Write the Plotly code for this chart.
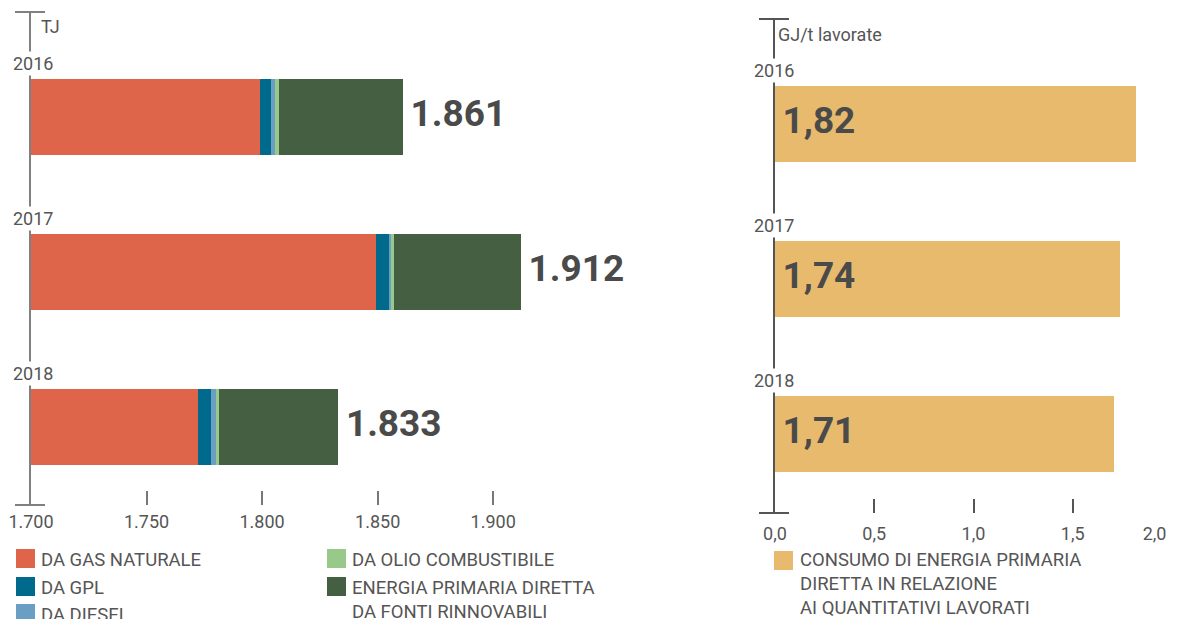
import plotly.graph_objects as go

# ---------------- data ----------------
years = ["2016", "2017", "2018"]
gas_naturale = [1799.0, 1849.4, 1772.2]
gpl = [4.8, 5.6, 5.6]
diesel = [1.9, 0.7, 2.1]
olio_combustibile = [1.5, 1.5, 1.3]
rinnovabili = [53.8, 54.8, 51.8]
totali = [1861, 1912, 1833]

intensita = [1.82, 1.74, 1.71]

left_ticks = [1700, 1750, 1800, 1850, 1900]
right_ticks = [0.0, 0.5, 1.0, 1.5, 2.0]

series_names = ["DA GAS NATURALE", "DA GPL", "DA DIESEL", "DA OLIO COMBUSTIBILE",
                "ENERGIA PRIMARIA DIRETTA<br>DA FONTI RINNOVABILI"]
series_colors = ["#DE644A", "#006A8C", "#6A9EC3", "#98C98B", "#445F41"]
right_name = "CONSUMO DI ENERGIA PRIMARIA<br>DIRETTA IN RELAZIONE<br>AI QUANTITATIVI LAVORATI"
right_color = "#E7BA6E"

W, H = 1178, 619
OFF = 8  # page body margin offset
TXT = "#555555"
FONT = "Roboto"
BOLD = "Roboto"
THIN = "\u2009"

def px(x):
    return (x - OFF) / W

def py(y):
    return 1 - (y - OFF) / H

fig = go.Figure()

series_vals = [gas_naturale, gpl, diesel, olio_combustibile, rinnovabili]
for name, vals, col in zip(series_names, series_vals, series_colors):
    fig.add_trace(go.Bar(
        x=vals, y=years, orientation="h", name=name,
        marker=dict(color=col, line=dict(width=0)),
        width=0.49, xaxis="x", yaxis="y", showlegend=False,
    ))

fig.add_trace(go.Bar(
    x=intensita, y=years, orientation="h", name="intensita",
    marker=dict(color=right_color, line=dict(width=0)),
    width=0.49, xaxis="x2", yaxis="y2", showlegend=False,
))

# value labels as text traces
fig.add_trace(go.Scatter(
    x=totali, y=years, mode="text", xaxis="x", yaxis="y", cliponaxis=False,
    text=[THIN + f"{t:,}".replace(",", ".") for t in totali],
    textposition="middle right", showlegend=False, hoverinfo="skip",
    textfont=dict(family=BOLD, size=37, color="#4A4A4A", weight="bold"),
))
fig.add_trace(go.Scatter(
    x=[0] * len(intensita), y=years, mode="text", xaxis="x2", yaxis="y2",
    cliponaxis=False,
    text=[THIN + f"{v:.2f}".replace(".", ",") for v in intensita],
    textposition="middle right", showlegend=False, hoverinfo="skip",
    textfont=dict(family=BOLD, size=37, color="#4A4A4A", weight="bold"),
))

annotations = []
# year labels
for i, yr in enumerate(years):
    annotations.append(dict(
        x=0, y=i - 0.348, xref="x domain", yref="y", text=yr, showarrow=False,
        xanchor="center", yanchor="middle", xshift=2, bgcolor="white", borderpad=1,
        font=dict(family=FONT, size=18, color=TXT),
    ))
    annotations.append(dict(
        x=0, y=i - 0.342, xref="x2 domain", yref="y2", text=yr, showarrow=False,
        xanchor="center", yanchor="middle", xshift=-1, bgcolor="white", borderpad=1,
        font=dict(family=FONT, size=18, color=TXT),
    ))
# units
annotations.append(dict(x=px(39), y=py(27), xref="paper", yref="paper", text="TJ",
                        showarrow=False, xanchor="left", yanchor="middle",
                        font=dict(family=FONT, size=18, color=TXT)))
annotations.append(dict(x=px(776), y=py(35), xref="paper", yref="paper", text="GJ/t lavorate",
                        showarrow=False, xanchor="left", yanchor="middle",
                        font=dict(family=FONT, size=18, color=TXT)))

shapes = []
# legend
LEG = 18.5
legend_pos = [(16, 549), (16, 577), (16, 604), (327, 549), (327, 577)]
for (lx, ly), name, col in zip(legend_pos, series_names, series_colors):
    shapes.append(dict(type="rect", xref="paper", yref="paper",
                       x0=px(lx), x1=px(lx + 19), y0=py(ly), y1=py(ly + 19),
                       fillcolor=col, line=dict(width=0)))
    annotations.append(dict(x=px(lx + 23), y=py(ly - 2), xref="paper", yref="paper",
                            text=name, showarrow=False, xanchor="left", yanchor="top",
                            align="left", font=dict(family=FONT, size=LEG, color=TXT)))
shapes.append(dict(type="rect", xref="paper", yref="paper",
                   x0=px(774), x1=px(793), y0=py(551), y1=py(570),
                   fillcolor=right_color, line=dict(width=0)))
annotations.append(dict(x=px(798), y=py(547), xref="paper", yref="paper",
                        text=right_name, showarrow=False, xanchor="left", yanchor="top",
                        align="left", font=dict(family=FONT, size=LEG, color=TXT)))

# axis end caps
for yr_top, yr_bot, xc, col in [(12, 505, 31, "#808080"), (19, 513, 775, "#555555")]:
    for yy in (yr_top, yr_bot):
        shapes.append(dict(type="line", xref="paper", yref="paper",
                           x0=px(xc - 16), x1=px(xc + 14), y0=py(yy), y1=py(yy),
                           line=dict(color=col, width=2)))

# tick labels for the right axis (last one padded so it stays inside the page)
right_ticktext = [f"{v:.1f}".replace(".", ",") for v in right_ticks]
right_ticktext[-1] = right_ticktext[-1] + "\u2007\u2007\u2007\u00a0"

fig.update_layout(
    template="none",
    width=W, height=H,
    margin=dict(l=0, r=0, t=0, b=0, pad=0, autoexpand=False),
    paper_bgcolor="white", plot_bgcolor="white",
    separators=",.",
    barmode="stack",
    showlegend=False,
    font=dict(family=FONT, size=18, color=TXT),
    xaxis=dict(domain=[px(31), px(600)], range=[1700, 1700 + 569 / 2.311],
               tickvals=left_ticks, tickformat=",d", ticks="inside", ticklen=14,
               tickwidth=1.5, tickcolor="#777777", showgrid=False, zeroline=False,
               showline=False, anchor="y", automargin=False,
               ticklabeloverflow="allow", ticklabelstandoff=4,
               tickfont=dict(family=FONT, size=18, color=TXT)),
    yaxis=dict(domain=[py(505), py(12)], range=[2.503, -0.677], type="category",
               showticklabels=False, ticks="", showgrid=False, zeroline=False,
               showline=True, linecolor="#808080", linewidth=2, anchor="x",
               automargin=False),
    xaxis2=dict(domain=[px(775), px(1172)], range=[0, 2.0],
                tickvals=right_ticks, ticktext=right_ticktext, ticks="inside",
                ticklen=14, tickwidth=1.5, tickcolor="#555555", showgrid=False,
                zeroline=False, showline=False, anchor="y2", automargin=False,
                ticklabeloverflow="allow", ticklabelstandoff=8,
                tickfont=dict(family=FONT, size=18, color=TXT)),
    yaxis2=dict(domain=[py(513), py(19)], range=[2.510, -0.677], type="category",
                showticklabels=False, ticks="", showgrid=False, zeroline=False,
                showline=True, linecolor="#555555", linewidth=2, anchor="x2",
                automargin=False),
    annotations=annotations,
    shapes=shapes,
)

fig.write_html("out.html")
